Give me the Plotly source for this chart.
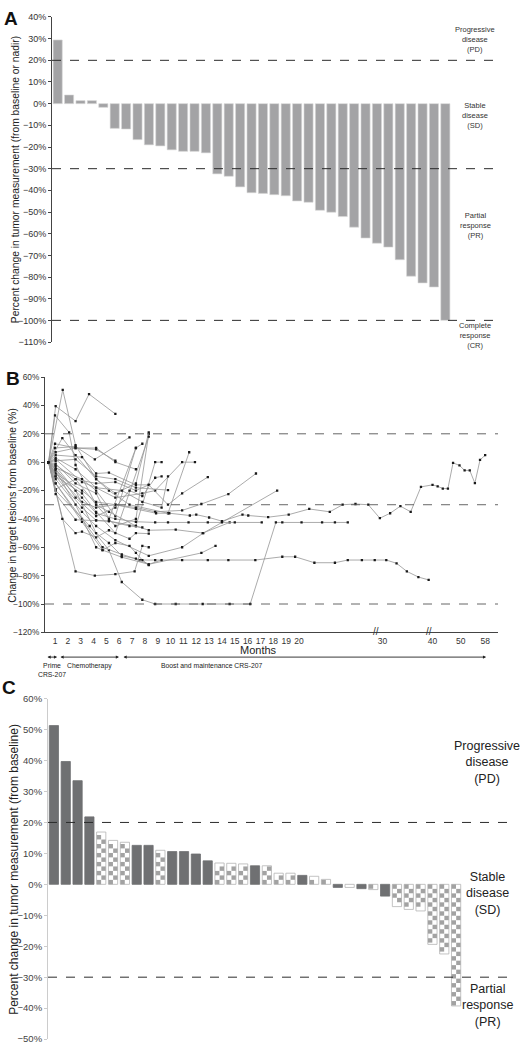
import plotly.graph_objects as go

# ---------------- Panel A data ----------------
a_values = [29.4, 4.0, 1.4, 1.4, -1.7, -11.4, -11.7, -16.6, -19.0, -19.5, -21.3, -22.0,
            -22.0, -22.7, -32.4, -33.5, -38.4, -41.1, -41.4, -42.0, -42.5, -44.9, -45.5,
            -49.2, -50.1, -52.1, -57.0, -62.0, -64.4, -66.2, -72.0, -79.6, -82.7, -84.6, -100.0]
a_ticks = list(range(-110, 41, 10))
a_thresholds = [20, -30, -100]
a_zone_labels = ["Progressive<br>disease<br>(PD)", "Stable<br>disease<br>(SD)",
                 "Partial<br>response<br>(PR)", "Complete<br>response<br>(CR)"]
a_zone_y = [29.4, -5.3, -56.4, -107.0]

# ---------------- Panel B data ----------------
# time positions on the (broken) months axis, and % change per patient
b_times = [
    [0.5, 1.05, 2.6, 3.65, 5.7],
    [0.5, 1.6, 2.6, 4.2, 5.2, 6.8, 9.8, 11.45],
    [0.5, 1.0, 2.1, 2.6, 4.2, 5.7, 7.3, 8.3],
    [0.5, 1.0, 2.6, 4.2, 5.7],
    [0.5, 1.0, 2.6, 4.1, 6.8],
    [0.5, 1.57, 2.6, 4.2, 5.7, 7.3, 8.3],
    [0.5, 1.05, 3.1, 4.2, 5.7, 7.3, 7.8],
    [0.5, 1.05, 2.6, 4.2, 5.2, 7.3, 8.8, 9.3],
    [0.5, 1.05, 3.1, 4.2, 5.7, 7.8, 8.8, 10.9, 11.9],
    [0.5, 1.05, 3.1, 4.2, 5.2, 7.3, 8.3, 9.8, 10.9, 12.9],
    [0.5, 1.05, 3.1, 4.2, 5.7, 7.3, 8.8, 10.9, 12.4, 14.5, 16.65],
    [0.5, 1.05, 3.1, 4.2, 5.7, 8.3, 10.9, 12.55, 18.3],
    [0.5, 1.05, 3.1, 4.7, 6.2, 8.3, 12.4, 13.5],
    [0.5, 1.05, 3.1, 4.2, 5.7, 7.3, 8.87, 9.9, 11.5, 12.0, 13.0, 14.0, 15.6, 16.05, 17.6,
     19.2, 20.8, 22.4, 23.4, 24.4, 25.4, 26.3, 27.1, 27.9, 28.7, 29.5, 30.4, 30.8, 31.2,
     31.6, 32.0, 32.5, 32.9, 33.3, 33.7, 34.1, 34.5],
    [0.5, 1.05, 3.1, 4.2, 5.2, 7.3, 8.3, 10.4, 12.5, 14.6],
    [0.5, 1.05, 3.1, 4.2, 5.7, 7.3, 8.8, 9.8, 11.4, 12.9, 14.0, 15.0, 17.1],
    [0.5, 1.05, 3.7, 5.2, 6.2, 7.8, 8.8, 10.4, 12.5, 14.6, 16.2, 18.2, 18.7, 20.2, 21.8,
     22.8, 23.8],
    [0.5, 2.6, 4.1, 5.7, 7.2, 7.8, 8.3],
    [0.5, 1.05, 3.1, 4.7, 6.2, 7.6, 8.8, 10.9, 12.9, 14.5, 16.6, 18.7, 19.7, 21.2, 22.8,
     23.8, 24.9, 25.9, 26.8, 27.6, 28.4, 29.3, 30.1],
    [0.5, 1.57, 2.6, 3.1, 4.2, 5.2, 6.8, 7.3, 8.3],
    [0.5, 1.05, 2.6, 4.2, 5.2, 6.8, 7.8],
    [0.5, 1.05, 2.6, 4.2, 4.7, 5.7, 6.8, 7.3, 7.8, 8.3],
    [0.5, 1.05, 2.6, 4.2, 5.2, 6.2, 7.3, 8.3, 9.3],
    [0.5, 1.05, 3.1, 4.2, 5.7, 8.3],
    [0.5, 1.05, 2.6, 4.2, 5.7, 7.3, 8.3],
    [0.5, 1.05, 2.6, 4.2, 5.7, 7.3, 9.8],
    [0.5, 1.05, 2.6, 4.2, 5.7, 7.3],
    [0.5, 1.05, 2.6, 4.2, 5.2, 7.3],
    [0.5, 1.05, 2.6, 4.2, 5.7, 6.8, 7.8, 8.8, 9.3],
    [0.5, 1.05, 2.6, 4.2, 6.2, 7.8, 9.3, 9.8],
]
b_values = [
    [0, 39.5, 29, 48, 34],
    [0, 51, 12, -12, -20, -30, -36, 7],
    [0, 33, 21, -2, -30, -45, -40, 20],
    [0, 13, 10, 9, 1],
    [0, 10, 11, 2, 17.5],
    [0, 17, 5, -12, -22, -15, 21],
    [0, -4, -12, -20, -38, 10, 13],
    [0, -19, -12, -30, -35, -45, 0, 0],
    [0, 2, -14, -18, -25, -22, -20, 0, 0],
    [0, 5, 3.5, -8, -7.4, -16, -16, -30, -22, -10.5],
    [0, -8, -20, -28, -30, -32, -35, -34, -29.5, -22.5, -8],
    [0, -12, -35, -45, -55, -66, -60, -50, -20],
    [0, -15, -42, -62, -67, -72, -64, -59],
    [0, -8, -28, -32, -30, -33, -36, -36, -37.6, -37, -39, -41.6, -37, -37.6, -38.8,
     -37, -33, -35, -30, -29.5, -30, -39.5, -36, -31, -35, -17.4, -16, -17, -18.6,
     -18.6, -0.5, -2.3, -5.8, -5.8, -14.8, 1.6, 4.9],
    [0, -10, -32, -41, -41.6, -45, -48, -47.6, -50, -42.5],
    [0, -5, -25, -36, -40, -42, -42.5, -42.5, -42.5, -42.5, -42.5, -42.5, -42.5],
    [0, -20, -45, -62, -84.5, -97, -100, -100, -100, -100, -100, -42.5, -42.5, -42.5,
     -42.5, -42.5, -42.5],
    [0, -77, -80, -79, -77, -59, -60],
    [0, -15, -40, -60, -65, -69, -69, -69, -69, -69, -69, -66.7, -66.7, -70.9, -70.9,
     -69, -69, -69, -69, -71.3, -77, -81, -83],
    [0, -40, -50, -49, -53, -48, -54, -50, -50.4],
    [0, -22.5, -40.6, -41, -41.6, -45, -46],
    [0, -6, -30, -60, -62, -57, -59, -64, -69, -72.5],
    [0, -3, -20, -50, -57, -66, -68, -72, -69],
    [0, -10, -22, -35, -50, 18],
    [0, -2, -12, -15, -14, -20, -16],
    [0, 1, 2, -10, -12, -18, -19.7],
    [0, 7, 10, 10, 0, -5],
    [0, -1, -15, -22, -40, 10],
    [0, -5, -25, -38, -32, -20, -24, -11, -10],
    [0, 3, -5, -18, -20, -28, -32, -10],
]
b_tick_pos = list(range(1, 21)) + [26.5, 30.4, 32.6, 34.5]
b_tick_text = [str(m) for m in range(1, 21)] + ["30", "40", "50", "58"]
b_ticks = list(range(-120, 61, 20))
b_thresholds = [20, -30, -100]
b_break_pos = [26.0, 30.1]
b_phase_labels = ["Prime<br>CRS-207", "Chemotherapy", "Boost and maintenance CRS-207"]
b_phase_start = [0.30, 1.31, 6.22]
b_phase_end = [1.16, 5.98, 34.57]
b_phase_text_x = [0.73, 3.65, 13.2]

# ---------------- Panel C data ----------------
c_values = [51.3, 39.7, 33.5, 21.8, 16.9, 14.2, 13.6, 12.6, 12.6, 11.0, 10.6, 10.6, 9.8,
            7.6, 6.9, 6.8, 6.6, 6.0, 6.0, 3.6, 3.6, 2.9, 2.6, 1.6, -1.0, -1.0, -1.4, -1.7,
            -3.8, -7.2, -8.1, -8.6, -19.4, -22.5, -39.3]
c_checkered = [0, 0, 0, 0, 1, 1, 1, 0, 0, 1, 0, 0, 0, 0, 1, 1, 1, 0, 1, 1, 1, 0, 1, 1,
               0, 1, 0, 1, 0, 1, 1, 1, 1, 1, 1]
c_ticks = list(range(-50, 61, 10))
c_thresholds = [20, -30]
c_zone_labels = ["Progressive<br>disease<br>(PD)", "Stable<br>disease<br>(SD)",
                 "Partial<br>response<br>(PR)"]
c_zone_y = [39.5, -2.8, -39.0]

# ---------------- helpers ----------------
W, H = 525, 1050
FONT = "Liberation Sans, Arial, sans-serif"


def fx(x):
    return x / W


def fy(y):
    return 1 - y / H


def pct(v):
    return ("\u2212%d%%" % -v) if v < 0 else ("%d%%" % v)


fig = go.Figure()

# Panel A bars
a_x = list(range(1, len(a_values) + 1))
fig.add_trace(go.Bar(x=a_x, y=a_values, width=0.8, xaxis="x", yaxis="y",
                     marker=dict(color="#a3a3a5", line=dict(color="#d6d6d6", width=0.6)),
                     showlegend=False, hoverinfo="skip"))

# Panel B lines
for t, v in zip(b_times, b_values):
    fig.add_trace(go.Scatter(x=t, y=v, mode="lines+markers", xaxis="x2", yaxis="y2",
                             line=dict(color="#959595", width=0.8),
                             marker=dict(symbol="square", size=2.3, color="#1a1a1a"),
                             showlegend=False, hoverinfo="skip"))

# Panel C bars
c_x = list(range(1, len(c_values) + 1))
c_fill = ["#ffffff" if c else "#6f7072" for c in c_checkered]
c_line = ["#b4b4b4" if c else "#6f7072" for c in c_checkered]
fig.add_trace(go.Bar(x=c_x, y=c_values, width=0.78, xaxis="x3", yaxis="y3",
                     marker=dict(color=c_fill, line=dict(color=c_line, width=0.8)),
                     showlegend=False, hoverinfo="skip"))

# checkerboard cells for the patterned bars
cell = 1.45
cx, cy = [], []
for xi, v, chk in zip(c_x, c_values, c_checkered):
    if not chk:
        continue
    n = int(abs(v) / cell)
    s = 1 if v >= 0 else -1
    for k in range(n):
        off = -0.195 if k % 2 == 0 else 0.195
        cx.append(xi + off)
        cy.append(s * (k + 0.5) * cell)
fig.add_trace(go.Scatter(x=cx, y=cy, mode="markers", xaxis="x3", yaxis="y3",
                         marker=dict(symbol="square", size=4.4, color="#a2a2a2",
                                     line=dict(width=0)),
                         showlegend=False, hoverinfo="skip"))

shapes = []
for t in a_thresholds:
    shapes.append(dict(type="line", xref="x domain", yref="y", x0=0, x1=1, y0=t, y1=t,
                       line=dict(color="#2b2b2b", width=1, dash="dash")))
for t in b_thresholds:
    shapes.append(dict(type="line", xref="x2 domain", yref="y2", x0=0, x1=1, y0=t, y1=t,
                       line=dict(color="#555555", width=0.9, dash="dash")))
for t in c_thresholds:
    shapes.append(dict(type="line", xref="x3 domain", yref="y3", x0=0, x1=1, y0=t, y1=t,
                       line=dict(color="#2b2b2b", width=1, dash="dash")))


def note(text, x, y, size, color="#222", xref="paper", yref="paper", angle=0,
         xanchor="center", yanchor="middle"):
    return dict(text=text, x=x, y=y, xref=xref, yref=yref, showarrow=False,
                textangle=angle, xanchor=xanchor, yanchor=yanchor, align="center",
                font=dict(size=size, color=color, family=FONT))


ann = []
# panel letters
for letter, x, y in [("A", 11, 13), ("B", 13, 376), ("C", 9, 689)]:
    ann.append(note("<b>%s</b>" % letter, fx(x), fy(y), 19, "#111"))
# y-axis titles
ann.append(note("Percent change in tumor measurement (from baseline or nadir)",
                fx(15), fy(176), 10.3, angle=-90))
ann.append(note("Change in target lesions from baseline (%)", fx(13), fy(505), 10.3,
                angle=-90))
ann.append(note("Percent change in tumor measurement (from baseline)", fx(14), fy(873),
                12, angle=-90))
# zone labels
for lab, yv in zip(a_zone_labels, a_zone_y):
    ann.append(note(lab, fx(475), yv, 7.5, "#333", yref="y"))
for lab, yv in zip(c_zone_labels, c_zone_y):
    ann.append(note(lab, fx(487), yv, 12.5, "#222", yref="y3"))
# Months title
ann.append(note("Months", fx(258), fy(651), 11))
# axis breaks
for bp in b_break_pos:
    ann.append(note("//", bp, fy(632), 10, "#333", xref="x2"))
# treatment phases timeline
for lab, s, e, tx in zip(b_phase_labels, b_phase_start, b_phase_end, b_phase_text_x):
    ann.append(dict(text="", x=e, y=fy(658), ax=s, ay=0, xref="x2", yref="paper",
                    axref="x2", ayref="pixel", showarrow=True, arrowhead=2,
                    arrowside="end+start", arrowsize=0.7, arrowwidth=0.9,
                    arrowcolor="#222", standoff=0, startstandoff=0))
    ann.append(note(lab, tx, fy(661), 6.8, xref="x2", yanchor="top"))

fig.update_layout(
    width=W, height=H, margin=dict(l=0, r=0, t=0, b=0),
    paper_bgcolor="white", plot_bgcolor="white", barmode="overlay",
    font=dict(family=FONT),
    shapes=shapes, annotations=ann,
    xaxis=dict(domain=[fx(52), fx(497)], range=[0.5, 39.53], visible=False),
    yaxis=dict(domain=[fy(339.6), fy(11.1)], range=[-110, 40], tickvals=a_ticks,
               ticktext=[pct(v) for v in a_ticks], showgrid=False, zeroline=False,
               showline=True, linecolor="#444", linewidth=1, ticks="outside", ticklen=3,
               tickcolor="#444", tickfont=dict(size=9, color="#333", family=FONT),
               anchor="x"),
    xaxis2=dict(domain=[fx(45), fx(498)], range=[0.22, 35.5], tickvals=b_tick_pos,
                ticktext=b_tick_text, showgrid=False, zeroline=False, showline=True,
                linecolor="#444", linewidth=1, ticks="",
                tickfont=dict(size=8.5, color="#333", family=FONT), anchor="y2"),
    yaxis2=dict(domain=[fy(633), fy(375)], range=[-120, 60], tickvals=b_ticks,
                ticktext=[pct(v) for v in b_ticks], showgrid=False, zeroline=False,
                showline=True, linecolor="#444", linewidth=1, ticks="outside", ticklen=3,
                tickcolor="#444", tickfont=dict(size=8.3, color="#333", family=FONT),
                anchor="x2"),
    xaxis3=dict(domain=[fx(48), fx(515)], range=[0.5, 39.98], visible=False),
    yaxis3=dict(domain=[fy(1044), fy(700)], range=[-50, 60], tickvals=c_ticks,
                ticktext=[pct(v) for v in c_ticks], showgrid=False, zeroline=False,
                showline=True, linecolor="#cccccc", linewidth=1, ticks="outside",
                ticklen=3, tickcolor="#cccccc",
                tickfont=dict(size=9.5, color="#444", family=FONT), anchor="x3"),
)

fig.write_html("out.html", config={"displayModeBar": False},
               post_script="document.body.style.margin='0';"
                           "document.body.style.overflow='hidden';")
